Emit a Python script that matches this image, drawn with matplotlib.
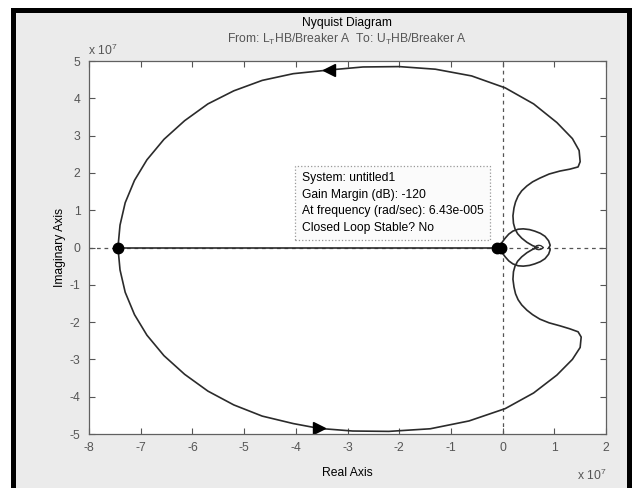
import numpy as np
import matplotlib.pyplot as plt
from matplotlib.patches import Rectangle

plt.rcParams['font.family'] = ['Liberation Sans', 'DejaVu Sans']
plt.rcParams['mathtext.fontset'] = 'custom'
plt.rcParams['mathtext.rm'] = 'Liberation Sans'
plt.rcParams['axes.unicode_minus'] = False

# Nyquist contour, units of 1e7
# outer loop, upper half (from the left real-axis crossing to the small inner loop)
outer_up_re = [-7.44, -7.40, -7.30, -7.12, -6.88, -6.55, -6.15, -5.70, -5.20, -4.65,
               -4.05, -3.35, -2.70, -2.00, -1.30, -0.60, 0.05, 0.60, 1.05, 1.35,
               1.48, 1.50, 1.46, 1.30, 1.11, 0.90, 0.72, 0.58, 0.47, 0.37,
               0.30, 0.25, 0.22, 0.20, 0.21, 0.24, 0.29, 0.37, 0.47, 0.58, 0.68]
outer_up_im = [0.00, 0.60, 1.20, 1.80, 2.35, 2.90, 3.40, 3.85, 4.20, 4.48,
               4.66, 4.76, 4.84, 4.85, 4.78, 4.60, 4.28, 3.85, 3.35, 2.92,
               2.60, 2.30, 2.16, 2.10, 2.05, 1.97, 1.86, 1.76, 1.65, 1.52,
               1.38, 1.22, 1.06, 0.85, 0.65, 0.50, 0.37, 0.25, 0.14, 0.05, 0.00]
# outer loop, lower half
outer_lo_re = [-7.44, -7.40, -7.30, -7.12, -6.88, -6.55, -6.15, -5.70, -5.20, -4.65,
               -4.05, -3.55, -2.90, -2.20, -1.40, -0.65, 0.05, 0.60, 1.05, 1.35,
               1.50, 1.52, 1.46, 1.30, 1.11, 0.90, 0.72, 0.58, 0.47, 0.37,
               0.30, 0.25, 0.22, 0.20, 0.21, 0.24, 0.29, 0.37, 0.47, 0.58, 0.68]
outer_lo_im = [0.00, -0.60, -1.20, -1.80, -2.35, -2.90, -3.40, -3.85, -4.22, -4.52,
               -4.72, -4.85, -4.92, -4.93, -4.86, -4.65, -4.32, -3.90, -3.42, -3.00,
               -2.68, -2.40, -2.26, -2.18, -2.10, -2.02, -1.92, -1.80, -1.68, -1.54,
               -1.40, -1.24, -1.06, -0.85, -0.65, -0.50, -0.37, -0.25, -0.14, -0.05, 0.00]
# inner lobe (upper half, mirrored below)
lobe_re = [-0.08, -0.02, 0.05, 0.12, 0.20, 0.30, 0.40, 0.52, 0.62, 0.73, 0.82, 0.89, 0.92, 0.90]
lobe_im = [0.00, 0.12, 0.25, 0.36, 0.44, 0.49, 0.50, 0.48, 0.44, 0.38, 0.30, 0.18, 0.06, 0.00]
# small loop around the point near 0.7e7
small_re = [0.62, 0.66, 0.70, 0.74, 0.79, 0.74, 0.70, 0.66, 0.62]
small_im = [0.00, 0.05, 0.06, 0.05, 0.00, -0.05, -0.06, -0.05, 0.00]
# segment on the real axis and the gain margin points
axis_seg_re = [-7.44, -0.08]
gm_re = [-7.44, -0.10, -0.04]
gm_im = [0.0, 0.0, 0.0]
# direction arrows
arrow_up = (-3.35, 4.76)
arrow_lo = (-3.55, -4.85)

tip_lines = ['System: untitled1',
             'Gain Margin (dB): -120',
             'At frequency (rad/sec): 6.43e-005',
             'Closed Loop Stable? No']

fig = plt.figure(figsize=(6.32, 4.88), dpi=100, facecolor='white')
fig.patches.append(Rectangle((12.5 / 632, -0.05), (629 - 12.5) / 632, 1.05 - 10 / 488,
                             transform=fig.transFigure, facecolor='#ebebeb',
                             edgecolor='black', linewidth=3.6, zorder=-10))

ax = fig.add_axes([89 / 632, 1 - 434 / 488, 517 / 632, 373 / 488])
ax.set_facecolor('white')

lc = '#2b2b2b'
ax.axhline(0, color='#555555', ls=(0, (3, 3)), lw=0.9)
ax.axvline(0, color='#555555', ls=(0, (3, 3)), lw=0.9)
ax.plot(axis_seg_re, [0, 0], color=lc, lw=1.2)
ax.plot(outer_up_re, outer_up_im, color=lc, lw=1.2)
ax.plot(outer_lo_re, outer_lo_im, color=lc, lw=1.2)
ax.plot(lobe_re, lobe_im, color=lc, lw=1.2)
ax.plot(lobe_re, [-v for v in lobe_im], color=lc, lw=1.2)
ax.plot(small_re, small_im, color=lc, lw=0.9)
ax.plot(gm_re, gm_im, 'o', color='black', ms=7.5)
ax.plot(*arrow_up, marker='<', color='black', ms=8)
ax.plot(*arrow_lo, marker='>', color='black', ms=8)

ax.text(-3.88, 2.02, '\n'.join(tip_lines), fontsize=8.7, va='top', ha='left',
        linespacing=1.5,
        bbox=dict(boxstyle='square,pad=0.55', facecolor='#fbfbfb',
                  edgecolor='#999999', linestyle=':', linewidth=0.9))

ax.set_xlim(-8, 2)
ax.set_ylim(-5, 5)
ax.set_xticks(range(-8, 3))
ax.set_yticks(range(-5, 6))
ax.tick_params(direction='in', length=4, top=True, right=True,
               colors='#555555', labelsize=8.7, pad=6)
for s in ax.spines.values():
    s.set_color('#606060')
    s.set_linewidth(0.9)

ax.set_xlabel('Real Axis', fontsize=8.7, labelpad=9)
ax.set_ylabel('Imaginary Axis', fontsize=8.7, labelpad=3)

fig.text(347 / 632, 1 - 23 / 488, 'Nyquist Diagram', ha='center', va='center', fontsize=8.7)
fig.text(347 / 632, 1 - 39 / 488, r'From: L$_{\mathrm{T}}$HB/Breaker A  To: U$_{\mathrm{T}}$HB/Breaker A',
         ha='center', va='center', fontsize=8.7, color='#555555')
fig.text(88 / 632, 1 - 50 / 488, r'x 10$^{7}$', ha='left', va='center', fontsize=8.7, color='#555555')
fig.text(577 / 632, 1 - 475 / 488, r'x 10$^{7}$', ha='left', va='center', fontsize=8.7, color='#555555')

fig.savefig('out.png', dpi=100, facecolor=fig.get_facecolor())
